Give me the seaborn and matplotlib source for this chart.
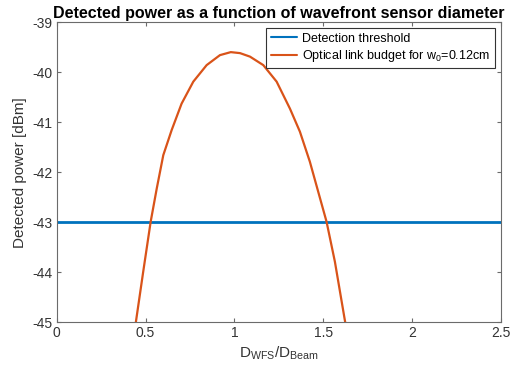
import numpy as np
import pandas as pd
import matplotlib
matplotlib.use("Agg")
import matplotlib.pyplot as plt
import seaborn as sns

# Data
ratio = [0.43, 0.446, 0.487, 0.529, 0.563, 0.600, 0.647, 0.703, 0.769, 0.844, 0.919,
         0.980, 1.032, 1.088, 1.163, 1.238, 1.313, 1.369, 1.425, 1.472, 1.519, 1.566,
         1.622, 1.64]
power = [-45.4, -44.99, -43.99, -42.99, -42.33, -41.66, -41.16, -40.63, -40.19, -39.86,
         -39.66, -39.60, -39.62, -39.69, -39.86, -40.19, -40.73, -41.19, -41.79, -42.39,
         -42.99, -43.79, -44.96, -45.3]
threshold_x = [0.0, 2.5]
threshold_y = [-43.0, -43.0]
series_names = ["Detection threshold", "Optical link budget for w$_0$=0.12cm"]

sns.set_theme(style="white")
plt.rcParams['font.family'] = ['Liberation Sans', 'DejaVu Sans']
plt.rcParams['mathtext.fontset'] = 'custom'
plt.rcParams['mathtext.rm'] = 'Liberation Sans'
plt.rcParams['mathtext.it'] = 'Liberation Sans'

df = pd.concat([
    pd.DataFrame({"x": threshold_x, "y": threshold_y, "series": series_names[0]}),
    pd.DataFrame({"x": ratio, "y": power, "series": series_names[1]}),
])

fig = plt.figure(figsize=(5.11, 3.75), dpi=100)
ax = fig.add_axes([0.111, 0.141, 0.869, 0.800])

sns.lineplot(data=df, x="x", y="y", hue="series", sort=False,
             palette=["#0072BD", "#D95319"], ax=ax, legend=True)
lines = ax.get_lines()
lines[0].set_linewidth(2.0)
lines[1].set_linewidth(1.6)

ax.set_xlim(0, 2.5)
ax.set_ylim(-45, -39)
ax.set_xticks([0, 0.5, 1, 1.5, 2, 2.5])
ax.set_xticklabels(["0", "0.5", "1", "1.5", "2", "2.5"])
ax.set_yticks([-45, -44, -43, -42, -41, -40, -39])
ax.set_yticklabels(["-45", "-44", "-43", "-42", "-41", "-40", "-39"])

edge = "#6b6b6b"
for s in ax.spines.values():
    s.set_color(edge)
    s.set_linewidth(0.8)
ax.tick_params(direction="in", length=3, width=0.8, color=edge, labelsize=10,
               labelcolor="#333333", top=True, right=True, bottom=True, left=True, pad=3)

ax.set_xlabel(r"D$_{\mathregular{WFS}}$/D$_{\mathregular{Beam}}$", fontsize=11, color="#333333", labelpad=3)
ax.set_ylabel("Detected power [dBm]", fontsize=11, color="#333333", labelpad=4)
ax.set_title("Detected power as a function of wavefront sensor diameter",
             fontsize=11.5, fontweight="bold", color="black", pad=3)

handles, labels = ax.get_legend_handles_labels()
leg = ax.legend(handles, labels, loc="upper right", fontsize=9, frameon=True,
                fancybox=False, edgecolor="#333333", framealpha=1, borderpad=0.35,
                handlelength=2.1, handletextpad=0.4, labelspacing=0.25,
                borderaxespad=0.5)
leg.get_frame().set_linewidth(0.8)
for t in leg.get_texts():
    t.set_color("black")

fig.savefig("out.png", dpi=100)
